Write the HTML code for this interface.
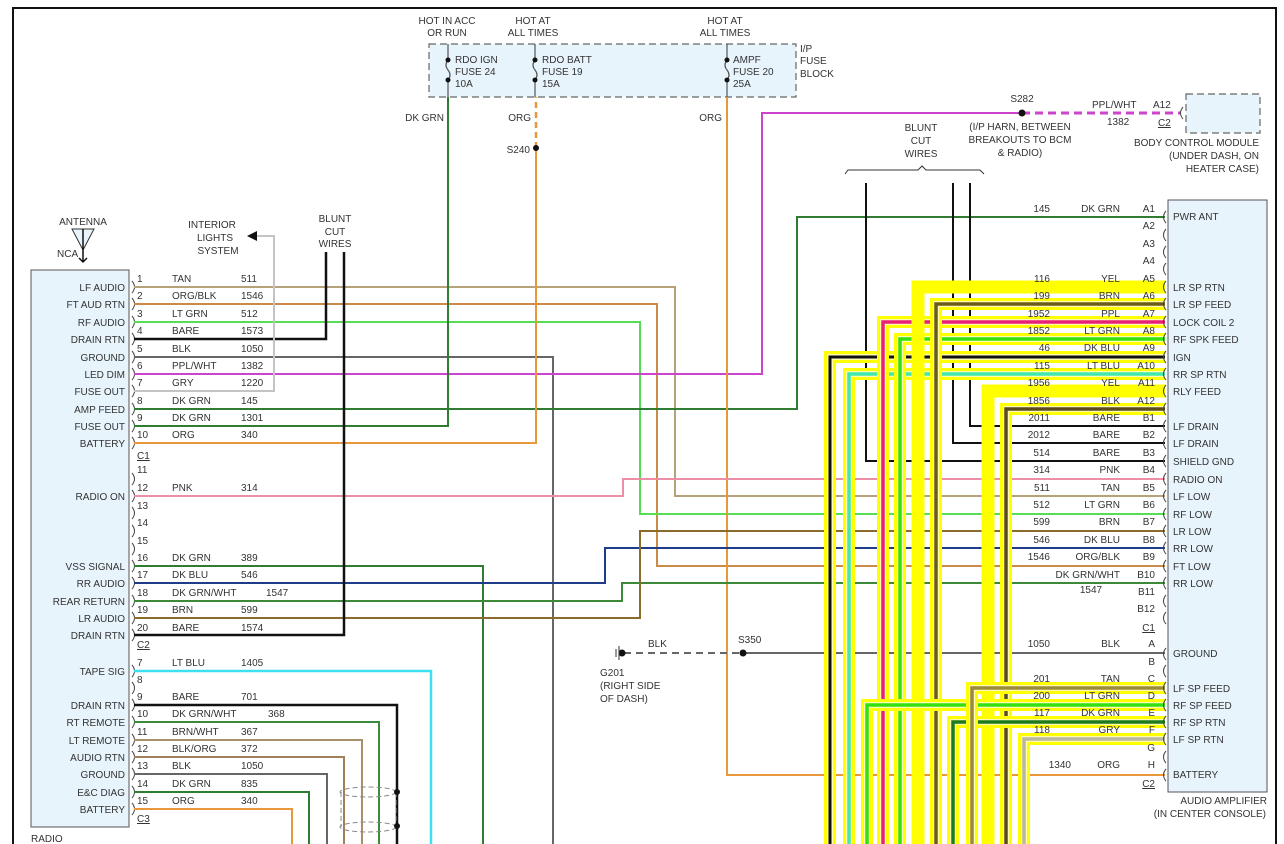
<!DOCTYPE html>
<html><head><meta charset="utf-8"><style>
html,body{margin:0;padding:0;background:#fff;}
svg{display:block;}
text{font-family:"Liberation Sans",Arial,sans-serif;font-size:10px;fill:#333;}
.r{text-anchor:end;}
.m{text-anchor:middle;}
</style></head><body>
<svg width="1284" height="844" viewBox="0 0 1284 844" xmlns="http://www.w3.org/2000/svg">
<rect width="1284" height="844" fill="#fff"/>
<path d="M13,844 V8 H1276 V844" fill="none" stroke="#111" stroke-width="2"/>

<rect x="429" y="44" width="367" height="53" fill="#e8f4fc" stroke="#666" stroke-dasharray="7,4" stroke-width="1.2"/>
<g stroke="#555" stroke-width="1.2" fill="none">
<path d="M448,44 V60 M448,80 V97 M448,60 q-4,5 0,10 q4,5 0,10"/>
<path d="M535,44 V60 M535,80 V97 M535,60 q-4,5 0,10 q4,5 0,10"/>
<path d="M727,44 V60 M727,80 V97 M727,60 q-4,5 0,10 q4,5 0,10"/>
</g>
<g fill="#111"><circle cx="448" cy="60" r="2.5"/><circle cx="448" cy="80" r="2.5"/><circle cx="535" cy="60" r="2.5"/><circle cx="535" cy="80" r="2.5"/><circle cx="727" cy="60" r="2.5"/><circle cx="727" cy="80" r="2.5"/></g>
<text x="447" y="24" class="m">HOT IN ACC</text><text x="447" y="36" class="m">OR RUN</text>
<text x="533" y="24" class="m">HOT AT</text><text x="533" y="36" class="m">ALL TIMES</text>
<text x="725" y="24" class="m">HOT AT</text><text x="725" y="36" class="m">ALL TIMES</text>
<text x="455" y="63">RDO IGN</text><text x="455" y="75">FUSE 24</text><text x="455" y="87">10A</text>
<text x="542" y="63">RDO BATT</text><text x="542" y="75">FUSE 19</text><text x="542" y="87">15A</text>
<text x="733" y="63">AMPF</text><text x="733" y="75">FUSE 20</text><text x="733" y="87">25A</text>
<text x="800" y="52">I/P</text><text x="800" y="64">FUSE</text><text x="800" y="77">BLOCK</text>
<text x="444" y="121" class="r">DK GRN</text>
<text x="531" y="121" class="r">ORG</text>
<text x="722" y="121" class="r">ORG</text>
<text x="530" y="153" class="r">S240</text>

<path d="M72,229 H94 L83,250 Z" fill="#e8f4fc" stroke="#333" stroke-width="1"/>
<path d="M83,229 V262 M79,258 L83,262 L87,258" stroke="#111" stroke-width="1.5" fill="none"/>
<text x="83" y="225" class="m">ANTENNA</text>
<text x="57" y="257">NCA</text>

<rect x="31" y="270" width="98" height="557" fill="#e8f4fc" stroke="#555" stroke-width="1"/>
<text x="31" y="842">RADIO</text>
<g>
<text x="125" y="291" class="r">LF AUDIO</text>
<text x="125" y="308" class="r">FT AUD RTN</text>
<text x="125" y="326" class="r">RF AUDIO</text>
<text x="125" y="343" class="r">DRAIN RTN</text>
<text x="125" y="361" class="r">GROUND</text>
<text x="125" y="378" class="r">LED DIM</text>
<text x="125" y="395" class="r">FUSE OUT</text>
<text x="125" y="413" class="r">AMP FEED</text>
<text x="125" y="430" class="r">FUSE OUT</text>
<text x="125" y="447" class="r">BATTERY</text>
<text x="125" y="500" class="r">RADIO ON</text>
<text x="125" y="570" class="r">VSS SIGNAL</text>
<text x="125" y="587" class="r">RR AUDIO</text>
<text x="125" y="605" class="r">REAR RETURN</text>
<text x="125" y="622" class="r">LR AUDIO</text>
<text x="125" y="639" class="r">DRAIN RTN</text>
<text x="125" y="675" class="r">TAPE SIG</text>
<text x="125" y="709" class="r">DRAIN RTN</text>
<text x="125" y="726" class="r">RT REMOTE</text>
<text x="125" y="744" class="r">LT REMOTE</text>
<text x="125" y="761" class="r">AUDIO RTN</text>
<text x="125" y="778" class="r">GROUND</text>
<text x="125" y="796" class="r">E&amp;C DIAG</text>
<text x="125" y="813" class="r">BATTERY</text>
</g>
<g stroke="#444" stroke-width="1" fill="none">
<path d="M132,281 q5,6 0,12 M132,298 q5,6 0,12 M132,316 q5,6 0,12 M132,333 q5,6 0,12 M132,351 q5,6 0,12 M132,368 q5,6 0,12 M132,385 q5,6 0,12 M132,403 q5,6 0,12 M132,420 q5,6 0,12 M132,437 q5,6 0,12"/>
<path d="M132,473 q5,6 0,12 M132,490 q5,6 0,12 M132,507 q5,6 0,12 M132,525 q5,6 0,12 M132,543 q5,6 0,12 M132,560 q5,6 0,12 M132,577 q5,6 0,12 M132,595 q5,6 0,12 M132,612 q5,6 0,12 M132,629 q5,6 0,12"/>
<path d="M132,665 q5,6 0,12 M132,682 q5,6 0,12 M132,699 q5,6 0,12 M132,716 q5,6 0,12 M132,734 q5,6 0,12 M132,751 q5,6 0,12 M132,768 q5,6 0,12 M132,786 q5,6 0,12 M132,803 q5,6 0,12"/>
</g>
<g>
<text x="137" y="282">1</text><text x="172" y="282">TAN</text><text x="241" y="282">511</text>
<text x="137" y="299">2</text><text x="172" y="299">ORG/BLK</text><text x="241" y="299">1546</text>
<text x="137" y="317">3</text><text x="172" y="317">LT GRN</text><text x="241" y="317">512</text>
<text x="137" y="334">4</text><text x="172" y="334">BARE</text><text x="241" y="334">1573</text>
<text x="137" y="352">5</text><text x="172" y="352">BLK</text><text x="241" y="352">1050</text>
<text x="137" y="369">6</text><text x="172" y="369">PPL/WHT</text><text x="241" y="369">1382</text>
<text x="137" y="386">7</text><text x="172" y="386">GRY</text><text x="241" y="386">1220</text>
<text x="137" y="404">8</text><text x="172" y="404">DK GRN</text><text x="241" y="404">145</text>
<text x="137" y="421">9</text><text x="172" y="421">DK GRN</text><text x="241" y="421">1301</text>
<text x="137" y="438">10</text><text x="172" y="438">ORG</text><text x="241" y="438">340</text>
<text x="137" y="459" text-decoration="underline">C1</text>
<text x="137" y="473">11</text>
<text x="137" y="491">12</text><text x="172" y="491">PNK</text><text x="241" y="491">314</text>
<text x="137" y="509">13</text>
<text x="137" y="526">14</text>
<text x="137" y="544">15</text>
<text x="137" y="561">16</text><text x="172" y="561">DK GRN</text><text x="241" y="561">389</text>
<text x="137" y="578">17</text><text x="172" y="578">DK BLU</text><text x="241" y="578">546</text>
<text x="137" y="596">18</text><text x="172" y="596">DK GRN/WHT</text><text x="266" y="596">1547</text>
<text x="137" y="613">19</text><text x="172" y="613">BRN</text><text x="241" y="613">599</text>
<text x="137" y="631">20</text><text x="172" y="631">BARE</text><text x="241" y="631">1574</text>
<text x="137" y="648" text-decoration="underline">C2</text>
<text x="137" y="666">7</text><text x="172" y="666">LT BLU</text><text x="241" y="666">1405</text>
<text x="137" y="683">8</text>
<text x="137" y="700">9</text><text x="172" y="700">BARE</text><text x="241" y="700">701</text>
<text x="137" y="717">10</text><text x="172" y="717">DK GRN/WHT</text><text x="268" y="717">368</text>
<text x="137" y="735">11</text><text x="172" y="735">BRN/WHT</text><text x="241" y="735">367</text>
<text x="137" y="752">12</text><text x="172" y="752">BLK/ORG</text><text x="241" y="752">372</text>
<text x="137" y="769">13</text><text x="172" y="769">BLK</text><text x="241" y="769">1050</text>
<text x="137" y="787">14</text><text x="172" y="787">DK GRN</text><text x="241" y="787">835</text>
<text x="137" y="804">15</text><text x="172" y="804">ORG</text><text x="241" y="804">340</text>
<text x="137" y="822" text-decoration="underline">C3</text>
</g>

<text x="212" y="228" class="m">INTERIOR</text><text x="215" y="241" class="m">LIGHTS</text><text x="218" y="254" class="m">SYSTEM</text>
<path d="M247,236 L257,231 L257,241 Z" fill="#111"/>
<text x="335" y="222" class="m">BLUNT</text><text x="335" y="235" class="m">CUT</text><text x="335" y="247" class="m">WIRES</text>

<g fill="none" stroke-width="2">
<path d="M134,287 H675 V496 H1165" stroke="#b5a27a"/>
<path d="M134,304 H657 V566 H1165" stroke="#c98a4a"/>
<path d="M134,322 H640 V514 H1165" stroke="#55dd55"/>
<path d="M134,339 H326 V252" stroke="#111" stroke-width="2.5"/>
<path d="M134,357 H553 V844" stroke="#666"/>
<path d="M134,374 H762 V113 H1022" stroke="#cc44cc"/>
<path d="M1022,113 H1180" stroke="#cc44cc" stroke-width="3" stroke-dasharray="8,5"/>
<path d="M134,391 H274 V236 H257" stroke="#c4c4c4"/>
<path d="M134,409 H797 V217 H1165" stroke="#2e7d32"/>
<path d="M134,426 H448 V97" stroke="#2e7d32"/>
<path d="M134,443 H536 V148" stroke="#e8973a"/>
<path d="M536,148 V97" stroke="#e8973a" stroke-dasharray="6,4" stroke-width="2.5"/>
<path d="M727,97 V775 H1165" stroke="#e8973a"/>
<path d="M134,496 H623 V479 H1165" stroke="#ec8fa6"/>
<path d="M134,566 H483 V844" stroke="#2e7d32"/>
<path d="M134,583 H605 V548 H1165" stroke="#1f3c88"/>
<path d="M134,601 H622 V583 H1165" stroke="#3a8a3a"/>
<path d="M134,618 H640 V531 H1165" stroke="#8b6b2b"/>
<path d="M134,635 H344 V252" stroke="#111" stroke-width="2.5"/>
<path d="M134,671 H431 V844" stroke="#3de0f0" stroke-width="2.5"/>
<path d="M134,705 H397 V844" stroke="#111" stroke-width="2.5"/>
<path d="M134,722 H379 V844" stroke="#3a8a3a"/>
<path d="M134,740 H362 V844" stroke="#a8906a"/>
<path d="M134,757 H344 V844" stroke="#a0805a"/>
<path d="M134,774 H327 V844" stroke="#666"/>
<path d="M134,792 H309 V844" stroke="#2e7d32"/>
<path d="M134,809 H292 V844" stroke="#e8973a"/>
<path d="M624,653 H743" stroke="#666" stroke-dasharray="7,5"/>
<path d="M743,653 H1165" stroke="#666"/>
<path d="M866,183 V461 H1165" stroke="#111"/>
<path d="M953,183 V443 H1165" stroke="#111"/>
<path d="M970,183 V426 H1165" stroke="#111"/>
</g>
<g fill="none" stroke="#888" stroke-width="1" stroke-dasharray="5,3">
<ellipse cx="368" cy="792" rx="28" ry="5"/>
<ellipse cx="368" cy="827" rx="28" ry="5"/>
<path d="M341,792 V827 M396,792 V827"/>
</g>
<g fill="#111"><circle cx="397" cy="792" r="3"/><circle cx="397" cy="826" r="3"/><circle cx="536" cy="148" r="3"/><circle cx="1022" cy="113" r="3.5"/><circle cx="743" cy="653" r="3.5"/><circle cx="622" cy="653" r="3.5"/></g>
<path d="M616,649 V657 M619,646 V660" stroke="#333" stroke-width="1"/>
<text x="648" y="647">BLK</text>
<text x="738" y="643">S350</text>
<text x="600" y="676">G201</text><text x="600" y="689">(RIGHT SIDE</text><text x="600" y="702">OF DASH)</text>

<g fill="none">
<path d="M1165,357 H830 V844" stroke="#ffff00" stroke-width="12"/><path d="M1165,357 H830 V844" stroke="#fffbb0" stroke-width="6"/><path d="M1165,357 H830 V844" stroke="#111" stroke-width="3"/>
<path d="M1165,374 H849 V844" stroke="#ffff00" stroke-width="12"/><path d="M1165,374 H849 V844" stroke="#fffbb0" stroke-width="6"/><path d="M1165,374 H849 V844" stroke="#40e8b0" stroke-width="3.5"/>
<path d="M1165,322 H883 V844" stroke="#ffff00" stroke-width="12"/><path d="M1165,322 H883 V844" stroke="#fffbb0" stroke-width="6"/><path d="M1165,322 H883 V844" stroke="#e8207a" stroke-width="3.5"/>
<path d="M1165,339 H900 V844" stroke="#ffff00" stroke-width="12"/><path d="M1165,339 H900 V844" stroke="#fffbb0" stroke-width="6"/><path d="M1165,339 H900 V844" stroke="#33e011" stroke-width="3.5"/>
<path d="M1165,287 H918 V844" stroke="#ffff00" stroke-width="13"/>
<path d="M1165,304 H936 V844" stroke="#ffff00" stroke-width="12"/><path d="M1165,304 H936 V844" stroke="#fffbb0" stroke-width="6"/><path d="M1165,304 H936 V844" stroke="#6b5a1a" stroke-width="3.5"/>
<path d="M1165,391 H988 V844" stroke="#ffff00" stroke-width="13"/>
<path d="M1165,409 H1006 V844" stroke="#ffff00" stroke-width="12"/><path d="M1165,409 H1006 V844" stroke="#fffbb0" stroke-width="6"/><path d="M1165,409 H1006 V844" stroke="#5a4a20" stroke-width="3.5"/>
<path d="M1165,705 H867 V844" stroke="#ffff00" stroke-width="12"/><path d="M1165,705 H867 V844" stroke="#fffbb0" stroke-width="6"/><path d="M1165,705 H867 V844" stroke="#33e011" stroke-width="3.5"/>
<path d="M1165,722 H953 V844" stroke="#ffff00" stroke-width="12"/><path d="M1165,722 H953 V844" stroke="#fffbb0" stroke-width="6"/><path d="M1165,722 H953 V844" stroke="#1e7a1e" stroke-width="3.5"/>
<path d="M1165,688 H972 V844" stroke="#ffff00" stroke-width="12"/><path d="M1165,688 H972 V844" stroke="#fffbb0" stroke-width="6"/><path d="M1165,688 H972 V844" stroke="#9a8a3a" stroke-width="3.5"/>
<path d="M1165,739 H1024 V844" stroke="#ffff00" stroke-width="12"/><path d="M1165,739 H1024 V844" stroke="#fffbb0" stroke-width="6"/><path d="M1165,739 H1024 V844" stroke="#b8b8a0" stroke-width="3.5"/>
</g>

<text x="921" y="131" class="m">BLUNT</text><text x="921" y="144" class="m">CUT</text><text x="921" y="157" class="m">WIRES</text>
<path d="M845,174 L848,170 H918 L922,166 L926,170 H980 L984,174" fill="none" stroke="#333" stroke-width="1"/>
<text x="1022" y="102" class="m">S282</text>
<text x="1020" y="130" class="m">(I/P HARN, BETWEEN</text><text x="1020" y="143" class="m">BREAKOUTS TO BCM</text><text x="1020" y="156" class="m">&amp; RADIO)</text>
<text x="1092" y="108">PPL/WHT</text><text x="1107" y="125">1382</text>
<text x="1153" y="108">A12</text><text x="1158" y="126" text-decoration="underline">C2</text>
<path d="M1183,107 q-5,6 0,12" stroke="#444" fill="none"/>
<rect x="1186" y="94" width="74" height="39" fill="#e8f4fc" stroke="#666" stroke-dasharray="7,4" stroke-width="1.2"/>
<text x="1259" y="146" class="r">BODY CONTROL MODULE</text><text x="1259" y="159" class="r">(UNDER DASH, ON</text><text x="1259" y="172" class="r">HEATER CASE)</text>

<rect x="1168" y="200" width="99" height="592" fill="#e8f4fc" stroke="#555" stroke-width="1"/>
<text x="1267" y="804" class="r">AUDIO AMPLIFIER</text><text x="1266" y="817" class="r">(IN CENTER CONSOLE)</text>
<g stroke="#444" stroke-width="1" fill="none">
<path d="M1166,211 q-5,6 0,12 M1166,229 q-5,6 0,12 M1166,246 q-5,6 0,12 M1166,263 q-5,6 0,12 M1166,281 q-5,6 0,12 M1166,298 q-5,6 0,12 M1166,316 q-5,6 0,12 M1166,333 q-5,6 0,12 M1166,351 q-5,6 0,12 M1166,368 q-5,6 0,12 M1166,385 q-5,6 0,12 M1166,403 q-5,6 0,12"/>
<path d="M1166,420 q-5,6 0,12 M1166,437 q-5,6 0,12 M1166,455 q-5,6 0,12 M1166,473 q-5,6 0,12 M1166,490 q-5,6 0,12 M1166,508 q-5,6 0,12 M1166,525 q-5,6 0,12 M1166,542 q-5,6 0,12 M1166,560 q-5,6 0,12 M1166,577 q-5,6 0,12 M1166,595 q-5,6 0,12 M1166,612 q-5,6 0,12"/>
<path d="M1166,648 q-5,6 0,12 M1166,665 q-5,6 0,12 M1166,682 q-5,6 0,12 M1166,699 q-5,6 0,12 M1166,716 q-5,6 0,12 M1166,733 q-5,6 0,12 M1166,751 q-5,6 0,12 M1166,769 q-5,6 0,12"/>
</g>
<g>
<text x="1173" y="220">PWR ANT</text>
<text x="1173" y="291">LR SP RTN</text>
<text x="1173" y="308">LR SP FEED</text>
<text x="1173" y="326">LOCK COIL 2</text>
<text x="1173" y="343">RF SPK FEED</text>
<text x="1173" y="361">IGN</text>
<text x="1173" y="378">RR SP RTN</text>
<text x="1173" y="395">RLY FEED</text>
<text x="1173" y="430">LF DRAIN</text>
<text x="1173" y="447">LF DRAIN</text>
<text x="1173" y="465">SHIELD GND</text>
<text x="1173" y="483">RADIO ON</text>
<text x="1173" y="500">LF LOW</text>
<text x="1173" y="518">RF LOW</text>
<text x="1173" y="535">LR LOW</text>
<text x="1173" y="552">RR LOW</text>
<text x="1173" y="570">FT LOW</text>
<text x="1173" y="587">RR LOW</text>
<text x="1173" y="657">GROUND</text>
<text x="1173" y="692">LF SP FEED</text>
<text x="1173" y="709">RF SP FEED</text>
<text x="1173" y="726">RF SP RTN</text>
<text x="1173" y="743">LF SP RTN</text>
<text x="1173" y="778">BATTERY</text>
</g>
<g>
<text x="1155" y="212" class="r">A1</text><text x="1120" y="212" class="r">DK GRN</text><text x="1050" y="212" class="r">145</text>
<text x="1155" y="229" class="r">A2</text>
<text x="1155" y="247" class="r">A3</text>
<text x="1155" y="264" class="r">A4</text>
<text x="1155" y="282" class="r">A5</text><text x="1120" y="282" class="r">YEL</text><text x="1050" y="282" class="r">116</text>
<text x="1155" y="299" class="r">A6</text><text x="1120" y="299" class="r">BRN</text><text x="1050" y="299" class="r">199</text>
<text x="1155" y="317" class="r">A7</text><text x="1120" y="317" class="r">PPL</text><text x="1050" y="317" class="r">1952</text>
<text x="1155" y="334" class="r">A8</text><text x="1120" y="334" class="r">LT GRN</text><text x="1050" y="334" class="r">1852</text>
<text x="1155" y="351" class="r">A9</text><text x="1120" y="351" class="r">DK BLU</text><text x="1050" y="351" class="r">46</text>
<text x="1155" y="369" class="r">A10</text><text x="1120" y="369" class="r">LT BLU</text><text x="1050" y="369" class="r">115</text>
<text x="1155" y="386" class="r">A11</text><text x="1120" y="386" class="r">YEL</text><text x="1050" y="386" class="r">1956</text>
<text x="1155" y="404" class="r">A12</text><text x="1120" y="404" class="r">BLK</text><text x="1050" y="404" class="r">1856</text>
<text x="1155" y="421" class="r">B1</text><text x="1120" y="421" class="r">BARE</text><text x="1050" y="421" class="r">2011</text>
<text x="1155" y="438" class="r">B2</text><text x="1120" y="438" class="r">BARE</text><text x="1050" y="438" class="r">2012</text>
<text x="1155" y="456" class="r">B3</text><text x="1120" y="456" class="r">BARE</text><text x="1050" y="456" class="r">514</text>
<text x="1155" y="473" class="r">B4</text><text x="1120" y="473" class="r">PNK</text><text x="1050" y="473" class="r">314</text>
<text x="1155" y="491" class="r">B5</text><text x="1120" y="491" class="r">TAN</text><text x="1050" y="491" class="r">511</text>
<text x="1155" y="508" class="r">B6</text><text x="1120" y="508" class="r">LT GRN</text><text x="1050" y="508" class="r">512</text>
<text x="1155" y="525" class="r">B7</text><text x="1120" y="525" class="r">BRN</text><text x="1050" y="525" class="r">599</text>
<text x="1155" y="543" class="r">B8</text><text x="1120" y="543" class="r">DK BLU</text><text x="1050" y="543" class="r">546</text>
<text x="1155" y="560" class="r">B9</text><text x="1120" y="560" class="r">ORG/BLK</text><text x="1050" y="560" class="r">1546</text>
<text x="1155" y="578" class="r">B10</text><text x="1120" y="578" class="r">DK GRN/WHT</text>
<text x="1091" y="593" class="m">1547</text>
<text x="1155" y="595" class="r">B11</text>
<text x="1155" y="612" class="r">B12</text>
<text x="1155" y="631" class="r" text-decoration="underline">C1</text>
<text x="1155" y="647" class="r">A</text><text x="1120" y="647" class="r">BLK</text><text x="1050" y="647" class="r">1050</text>
<text x="1155" y="665" class="r">B</text>
<text x="1155" y="682" class="r">C</text><text x="1120" y="682" class="r">TAN</text><text x="1050" y="682" class="r">201</text>
<text x="1155" y="699" class="r">D</text><text x="1120" y="699" class="r">LT GRN</text><text x="1050" y="699" class="r">200</text>
<text x="1155" y="716" class="r">E</text><text x="1120" y="716" class="r">DK GRN</text><text x="1050" y="716" class="r">117</text>
<text x="1155" y="733" class="r">F</text><text x="1120" y="733" class="r">GRY</text><text x="1050" y="733" class="r">118</text>
<text x="1155" y="751" class="r">G</text>
<text x="1155" y="768" class="r">H</text><text x="1120" y="768" class="r">ORG</text><text x="1071" y="768" class="r">1340</text>
<text x="1155" y="787" class="r" text-decoration="underline">C2</text>
</g>
</svg>
</body></html>
